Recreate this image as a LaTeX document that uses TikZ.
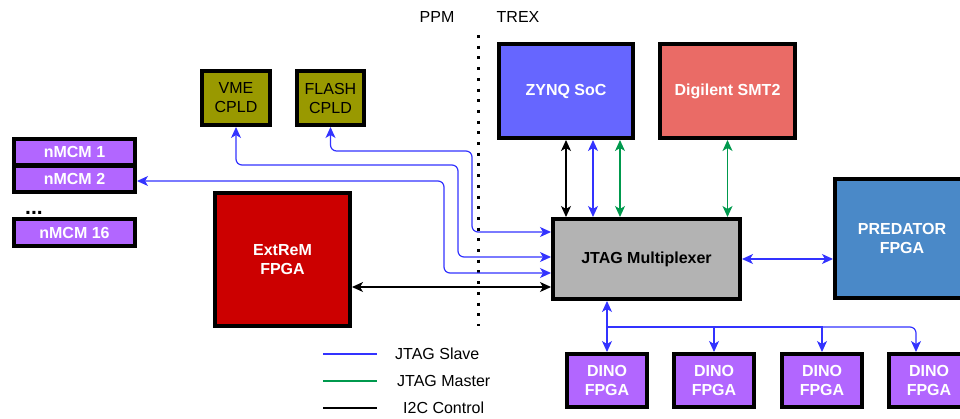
\documentclass[tikz,border=0pt]{standalone}
\usepackage{fontspec}
\setmainfont{Liberation Sans}
\usetikzlibrary{arrows.meta}
\definecolor{slaveblue}{HTML}{3333FF}
\definecolor{mastergreen}{HTML}{00994D}
\definecolor{zynqfill}{HTML}{6666FF}
\definecolor{smtfill}{HTML}{EA6B66}
\definecolor{muxfill}{HTML}{B3B3B3}
\definecolor{predfill}{HTML}{4A89C8}
\definecolor{extremfill}{HTML}{CC0000}
\definecolor{cpldfill}{HTML}{999900}
\definecolor{purplefill}{HTML}{B266FF}
\begin{document}
\begin{tikzpicture}[x=1pt,y=-1pt,
  box/.style={draw=black, line width=4pt, inner sep=0pt, align=center,
    font=\fontsize{16}{19}\selectfont\bfseries, text=white},
  plainbox/.style={box, font=\fontsize{16}{19}\selectfont, text=black},
  conn/.style={line width=1.2pt, >={Stealth[length=11pt,width=10pt,inset=3pt]}},
  slave/.style={conn, draw=slaveblue},
  master/.style={conn, draw=mastergreen},
  ctrl/.style={conn, draw=black},
  lbl/.style={font=\fontsize{16}{19}\selectfont, inner sep=0pt}
]
\useasboundingbox (0,0) rectangle (960,418);

% region labels and divider
\node[lbl] (ppm) at (437,17) {PPM};
\node[lbl] (trex) at (518,17) {TREX};
\coordinate (divtop) at (478,35);
\coordinate (divbot) at (478,326);
\draw[line width=3pt, dash pattern=on 3pt off 7.7pt] (divtop) -- (divbot);

% boxes
\node[box, fill=zynqfill, minimum width=134pt, minimum height=94pt] (zynq) at (566,91) {ZYNQ SoC};
\node[box, fill=smtfill, minimum width=135pt, minimum height=94pt] (smt) at (727.5,91) {Digilent SMT2};
\node[box, fill=muxfill, text=black, minimum width=187pt, minimum height=80pt] (mux) at (646.5,259) {JTAG Multiplexer};
\node[box, fill=predfill, minimum width=134pt, minimum height=119pt] (pred) at (902,238.5) {PREDATOR\\FPGA};
\node[box, fill=extremfill, minimum width=135pt, minimum height=133pt] (extrem) at (282.5,259.5) {ExtReM\\FPGA};
\node[plainbox, fill=cpldfill, minimum width=68pt, minimum height=54pt] (vme) at (236,98) {VME\\CPLD};
\node[plainbox, fill=cpldfill, minimum width=67pt, minimum height=54pt] (flash) at (330.5,98) {FLASH\\CPLD};
\node[box, fill=purplefill, minimum width=121pt, minimum height=26pt] (nmcm1) at (74.5,152) {nMCM 1};
\node[box, fill=purplefill, minimum width=121pt, minimum height=26pt] (nmcm2) at (74.5,179) {nMCM 2};
\node[font=\fontsize{21}{24}\selectfont\bfseries, inner sep=0pt, anchor=base] (dots) at (34,214) {...};
\node[box, fill=purplefill, minimum width=121pt, minimum height=27pt] (nmcm16) at (74.5,232.5) {nMCM 16};
\node[box, fill=purplefill, minimum width=80pt, minimum height=53pt] (dino1) at (607,380.5) {DINO\\FPGA};
\node[box, fill=purplefill, minimum width=80pt, minimum height=53pt] (dino2) at (714,380.5) {DINO\\FPGA};
\node[box, fill=purplefill, minimum width=80pt, minimum height=53pt] (dino3) at (822,380.5) {DINO\\FPGA};
\node[box, fill=purplefill, minimum width=80pt, minimum height=53pt] (dino4) at (929,380.5) {DINO\\FPGA};

% ZYNQ / SMT2 to mux
\draw[ctrl,<->] (zynq.south) -- (zynq.south |- mux.north);
\draw[slave,<->] ([xshift=27pt]zynq.south) -- ([xshift=-53.5pt]mux.north);
\draw[master,<->] ([xshift=54pt]zynq.south) -- ([xshift=-26.5pt]mux.north);
\draw[master,<->] (smt.south) -- ([xshift=81pt]mux.north);

% mux to predator
\draw[slave,<->] (mux.east) -- (mux.east -| pred.west);

% left side
\draw[slave,<->,rounded corners=6pt] (flash.south) |- (472,151) |- ([yshift=27pt]mux.west);
\draw[slave,<->,rounded corners=6pt] (vme.south) |- (458,165) |- ([yshift=2pt]mux.west);
\draw[slave,<->,rounded corners=6pt] ([yshift=-2pt]nmcm2.east) -- (444,181) |- ([yshift=-14pt]mux.west);
\draw[ctrl,<->] ([yshift=-27.5pt]extrem.east) -- ([yshift=-28pt]mux.west);

% DINO bus
\coordinate (bus) at (607,327);
\draw[slave,<->] ([xshift=-39.5pt]mux.south) -- (dino1.north);
\draw[slave,->] (bus) -| (dino2.north);
\draw[slave,->] (bus) -| (dino3.north);
\draw[slave,->,rounded corners=6pt] (bus) -| ([xshift=-13pt]dino4.north);

% legend
\coordinate (l1a) at (323,354); \coordinate (l1b) at (377,354);
\coordinate (l2a) at (323,381); \coordinate (l2b) at (377,381);
\coordinate (l3a) at (323,408); \coordinate (l3b) at (377,408);
\draw[slave] (l1a) -- (l1b);
\draw[master] (l2a) -- (l2b);
\draw[ctrl] (l3a) -- (l3b);
\node[lbl, anchor=west] (t1) at (395,354) {JTAG Slave};
\node[lbl, anchor=west] (t2) at (397,381) {JTAG Master};
\node[lbl, anchor=west] (t3) at (403,408) {I2C Control};
\end{tikzpicture}
\end{document}
